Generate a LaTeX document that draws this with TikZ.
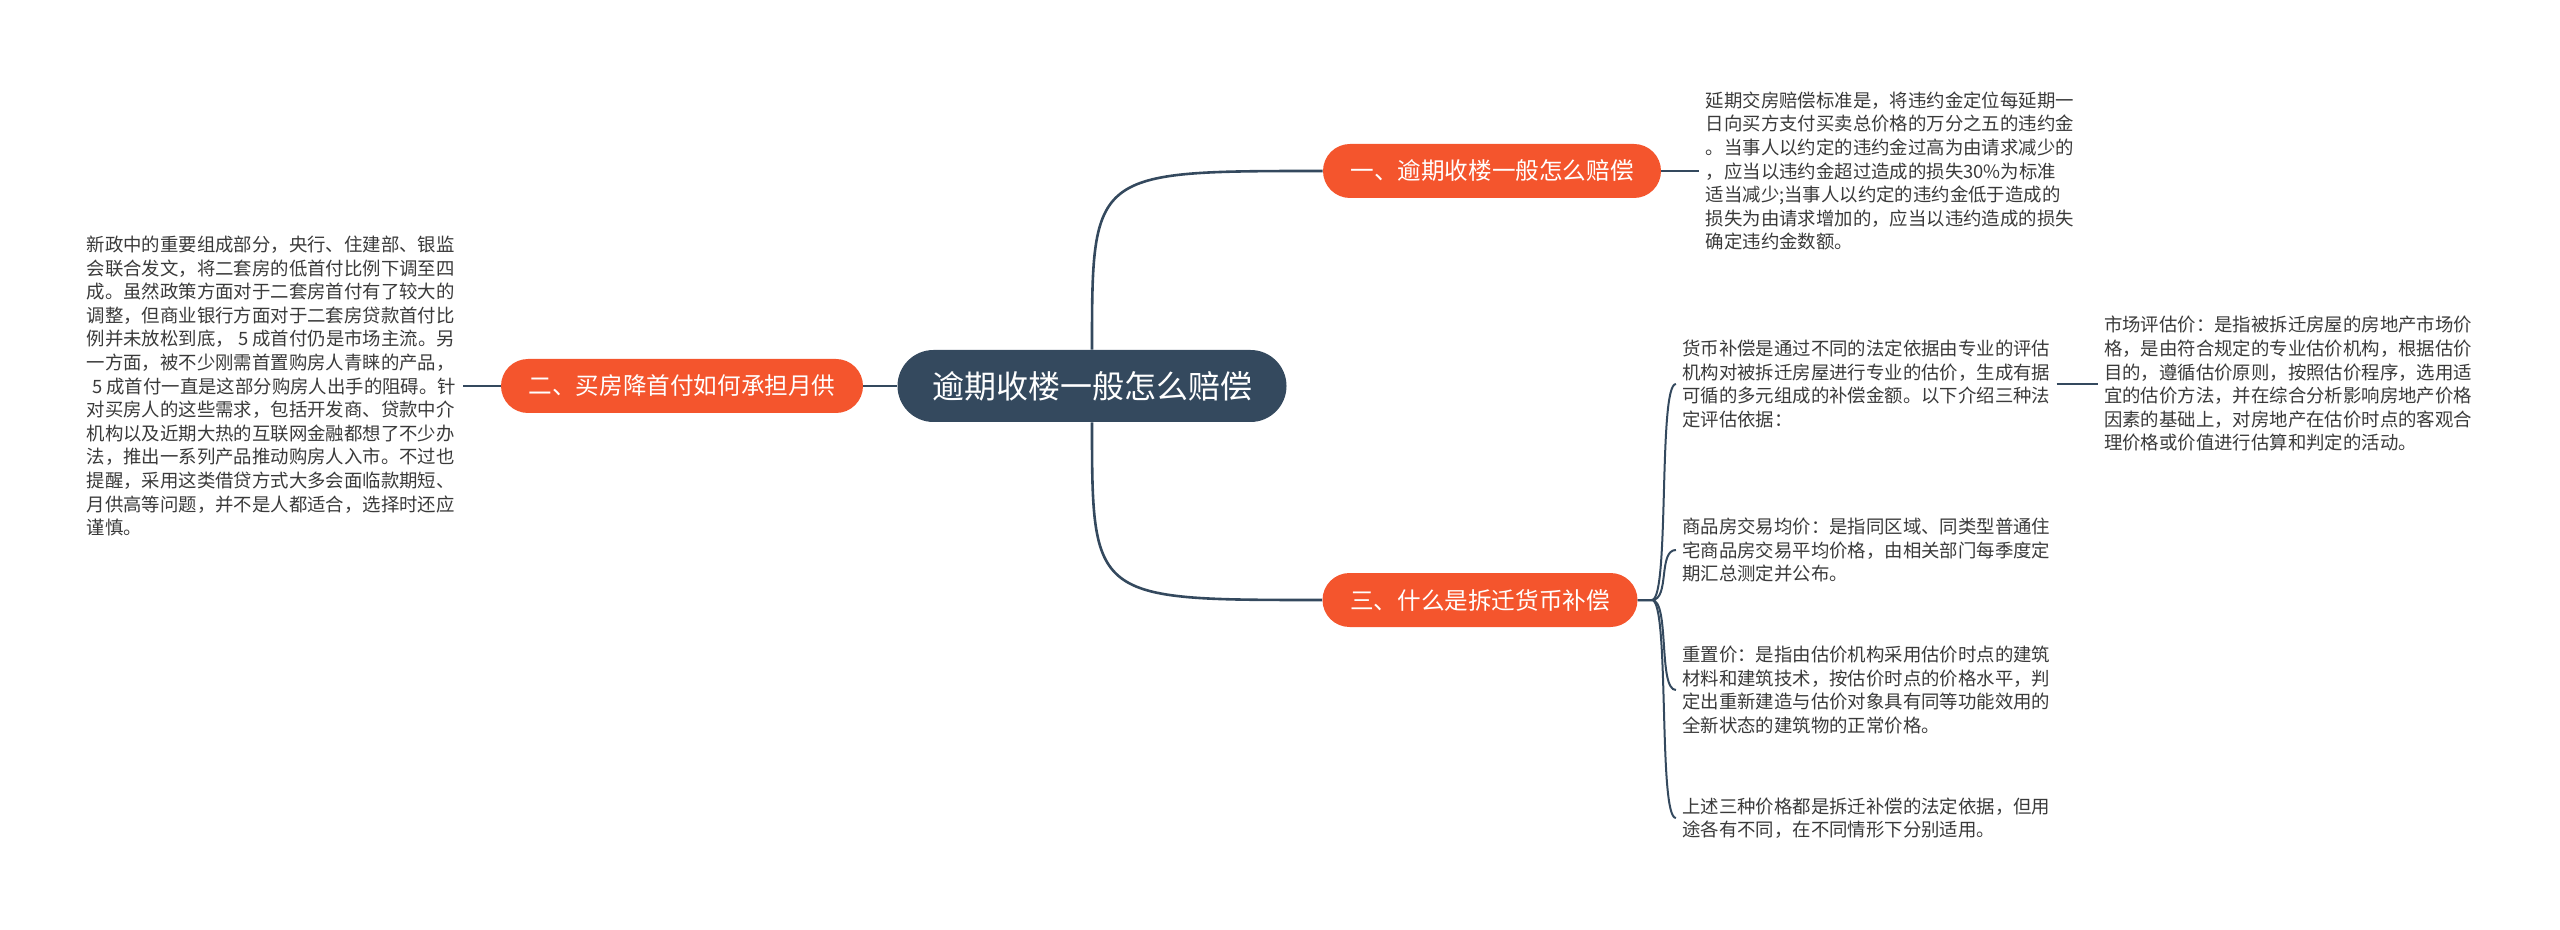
\documentclass[tikz,border=0pt]{standalone}
\usepackage{fontspec}
\setmainfont{Noto Sans CJK SC}
\usepackage{xcolor}
\usetikzlibrary{positioning}

\definecolor{slate}{HTML}{34495E}
\definecolor{topicred}{HTML}{F4552D}
\definecolor{ink}{HTML}{3A3A3A}

\begin{document}
\begin{tikzpicture}[
    x=0.5pt, y=-0.5pt,
    node distance=19pt,
    root/.style={rectangle, fill=slate, text=white, rounded corners=18pt, minimum width=194.5pt, minimum height=36pt, font=\fontsize{16}{19}\selectfont},
    topic/.style={rectangle, fill=topicred, text=white, rounded corners=13.5pt, minimum height=27pt, font=\fontsize{11.8}{14}\selectfont},
    note/.style={align=left, text=ink, inner xsep=3pt, inner ysep=0pt, font=\fontsize{9.2}{11.8}\selectfont},
    link/.style={draw=slate, line width=1.3pt},
    sublink/.style={draw=slate, line width=1pt}
]
    \useasboundingbox (0,0) rectangle (2560,930);

    \node [root] (n0) at (1092,386) {逾期收楼一般怎么赔偿};
    \node [topic, minimum width=169pt] (n1) at (1492,171) {一、逾期收楼一般怎么赔偿};
    \node [topic, minimum width=181pt] (n2) at (682,386) {二、买房降首付如何承担月供};
    \node [topic, minimum width=157.5pt] (n3) at (1480,600) {三、什么是拆迁货币补偿};

    \node [note, right=of n1] (d1) {延期交房赔偿标准是，将违约金定位每延期一\\
        日向买方支付买卖总价格的万分之五的违约金\\
        。当事人以约定的违约金过高为由请求减少的\\
        ，应当以违约金超过造成的损失30\%为标准\\
        适当减少;当事人以约定的违约金低于造成的\\
        损失为由请求增加的，应当以违约造成的损失\\
        确定违约金数额。};
    \node [note, left=of n2] (d2) {新政中的重要组成部分，央行、住建部、银监\\
        会联合发文，将二套房的低首付比例下调至四\\
        成。虽然政策方面对于二套房首付有了较大的\\
        调整，但商业银行方面对于二套房贷款首付比\\
        例并未放松到底， 5 成首付仍是市场主流。另\\
        一方面，被不少刚需首置购房人青睐的产品，\\
        \hspace*{0.3em}5 成首付一直是这部分购房人出手的阻碍。针\\
        对买房人的这些需求，包括开发商、贷款中介\\
        机构以及近期大热的互联网金融都想了不少办\\
        法，推出一系列产品推动购房人入市。不过也\\
        提醒，采用这类借贷方式大多会面临款期短、\\
        月供高等问题，并不是人都适合，选择时还应\\
        谨慎。};
    \node [note, right=of n3, yshift=108pt] (d31) {货币补偿是通过不同的法定依据由专业的评估\\
        机构对被拆迁房屋进行专业的估价，生成有据\\
        可循的多元组成的补偿金额。以下介绍三种法\\
        定评估依据：};
    \node [note, right=20.5pt of d31] (d311) {市场评估价：是指被拆迁房屋的房地产市场价\\
        格，是由符合规定的专业估价机构，根据估价\\
        目的，遵循估价原则，按照估价程序，选用适\\
        宜的估价方法，并在综合分析影响房地产价格\\
        因素的基础上，对房地产在估价时点的客观合\\
        理价格或价值进行估算和判定的活动。};
    \node [note, right=of n3, yshift=25pt] (d32) {商品房交易均价：是指同区域、同类型普通住\\
        宅商品房交易平均价格，由相关部门每季度定\\
        期汇总测定并公布。};
    \node [note, right=of n3, yshift=-45pt] (d33) {重置价：是指由估价机构采用估价时点的建筑\\
        材料和建筑技术，按估价时点的价格水平，判\\
        定出重新建造与估价对象具有同等功能效用的\\
        全新状态的建筑物的正常价格。};
    \node [note, right=of n3, yshift=-109pt] (d34) {上述三种价格都是拆迁补偿的法定依据，但用\\
        途各有不同，在不同情形下分别适用。};

    \draw [link] (n0.north) .. controls (n0.north |- n1.west) .. (n1.west);
    \draw [link] (n0.south) .. controls (n0.south |- n3.west) .. (n3.west);
    \draw [link] (n0.west) -- (n2.east);
    \draw [link] (n1.east) -- (d1.west);
    \draw [link] (n2.west) -- (d2.east);
    \draw [sublink] (d31.east) -- (d311.west);
    \foreach \d in {d31,d32,d33,d34}
        \draw [sublink] (n3.east) -- ++(7pt,0) .. controls +(9pt,0) and ([xshift=-9pt]\d.west) .. (\d.west);
\end{tikzpicture}
\end{document}
